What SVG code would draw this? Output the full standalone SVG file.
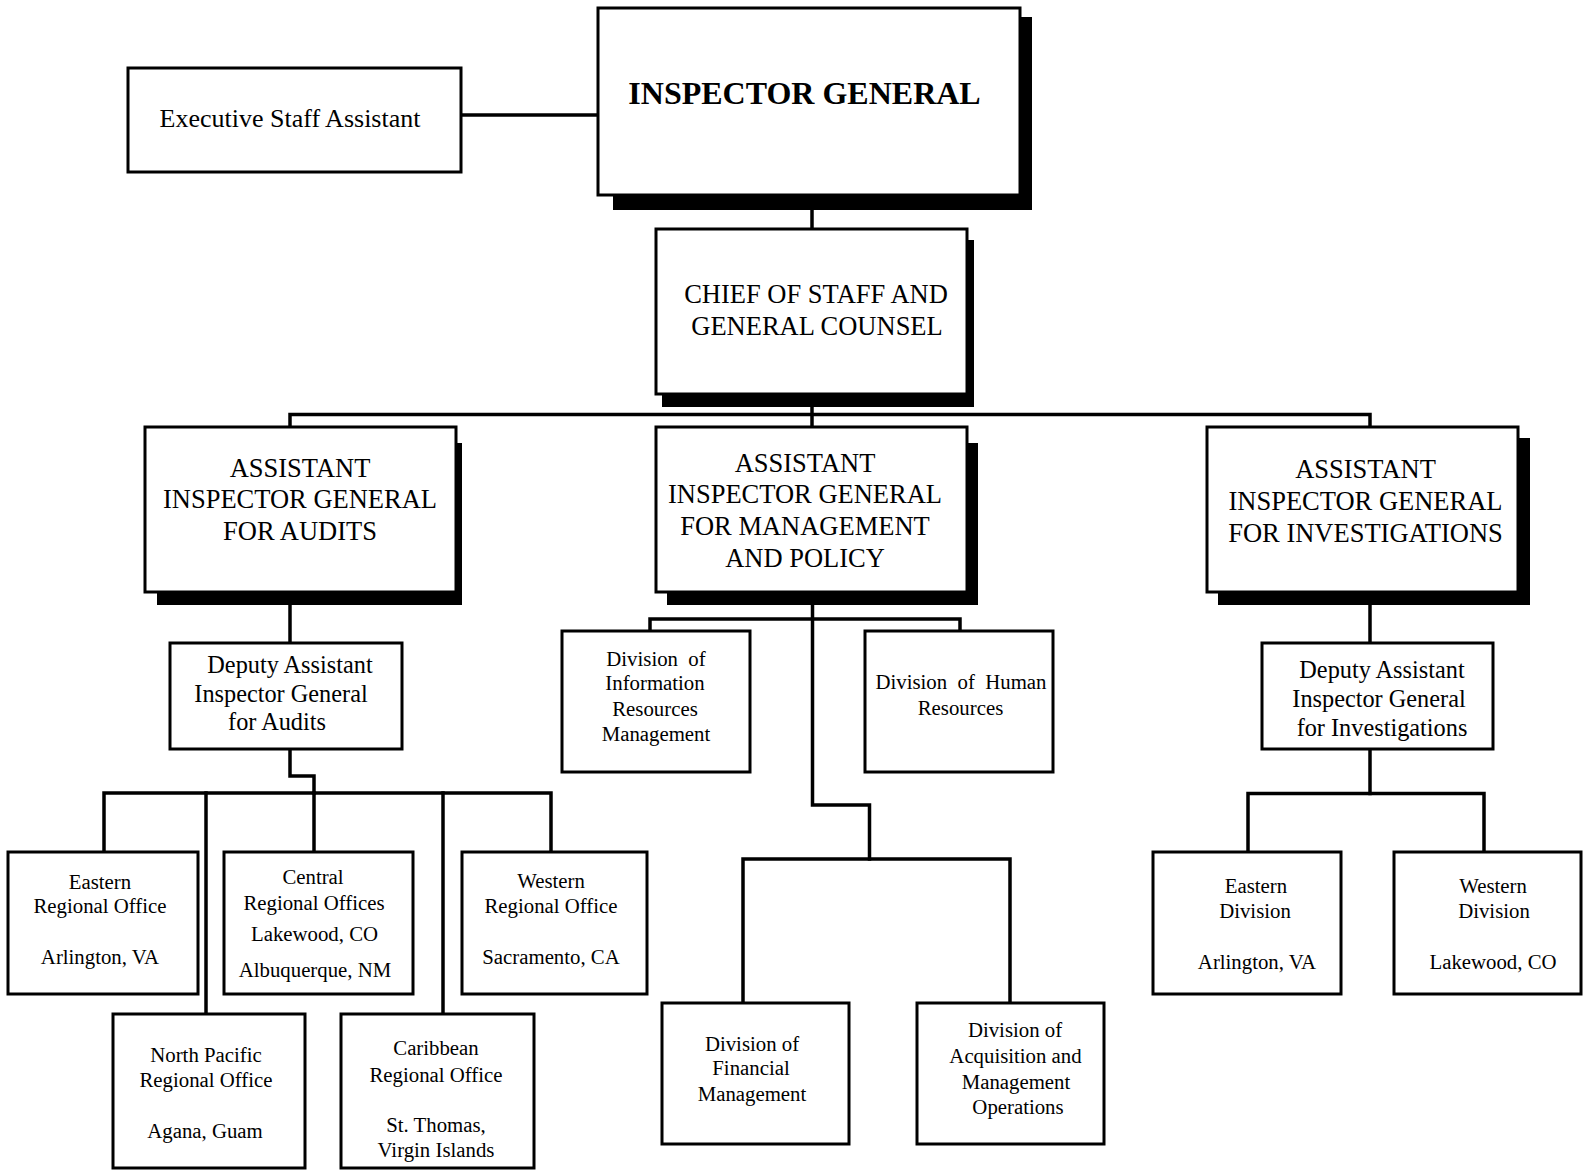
<svg xmlns="http://www.w3.org/2000/svg" width="1585" height="1171" viewBox="0 0 1585 1171">
<style>
  .box { fill: #fff; stroke: #000; stroke-width: 3; }
  .shadow { fill: #000; stroke: none; }
  .conn { fill: none; stroke: #000; stroke-width: 3.5; stroke-linejoin: miter; stroke-linecap: square; }
  text { font-family: "Liberation Serif", "Times New Roman", serif; fill: #000; text-anchor: middle; }
  .ig { font-size: 32px; font-weight: bold; }
  .big { font-size: 26.5px; }
  .exec { font-size: 26px; }
  .dep { font-size: 24.3px; }
  .sm { font-size: 20.8px; }
</style>
<rect width="1585" height="1171" fill="#fff"/>

<g id="connectors">
  <path class="conn" d="M461,115 H598"/>
  <path class="conn" d="M812,210 V229"/>
  <path class="conn" d="M812,407 V427"/>
  <path class="conn" d="M290,427 V414.5 H1370 V427"/>
  <path class="conn" d="M290,592 V643"/>
  <path class="conn" d="M290,749 V776 H314 V793"/>
  <path class="conn" d="M104,852 V793 H551 V852"/>
  <path class="conn" d="M206,793 V1014"/>
  <path class="conn" d="M314,793 V852"/>
  <path class="conn" d="M443,793 V1014"/>
  <path class="conn" d="M812.5,592 V805 H869.5 V859"/>
  <path class="conn" d="M743,1003 V859 H1010 V1003"/>
  <path class="conn" d="M650,631 V619 H960 V631"/>
  <path class="conn" d="M1370,592 V643"/>
  <path class="conn" d="M1370,749 V793.5"/>
  <path class="conn" d="M1248,852 V793.5 H1484 V852"/>
</g>

<g id="exec-staff-assistant">
  <rect class="box" x="128" y="68" width="333" height="104"/>
  <text class="exec" x="290" y="127">Executive Staff Assistant</text>
</g>

<g id="inspector-general">
  <rect class="shadow" x="613" y="17" width="419" height="193"/>
  <rect class="box" x="598" y="8" width="422" height="187"/>
  <text class="ig" x="804.5" y="104">INSPECTOR GENERAL</text>
</g>

<g id="chief-of-staff">
  <rect class="shadow" x="662" y="240" width="312" height="167"/>
  <rect class="box" x="656" y="229" width="311" height="165"/>
  <text class="big" x="816" y="303">CHIEF OF STAFF AND</text>
  <text class="big" x="817" y="335">GENERAL COUNSEL</text>
</g>

<g id="aig-audits">
  <rect class="shadow" x="157" y="443" width="305" height="162"/>
  <rect class="box" x="145" y="427" width="311" height="165"/>
  <text class="big" x="300" y="476.5">ASSISTANT</text>
  <text class="big" x="300" y="508">INSPECTOR GENERAL</text>
  <text class="big" x="300" y="540">FOR AUDITS</text>
</g>

<g id="aig-management">
  <rect class="shadow" x="667" y="443" width="311" height="162"/>
  <rect class="box" x="656" y="427" width="311" height="165"/>
  <text class="big" x="805" y="471.5">ASSISTANT</text>
  <text class="big" x="805" y="503">INSPECTOR GENERAL</text>
  <text class="big" x="805" y="535">FOR MANAGEMENT</text>
  <text class="big" x="805" y="566.5">AND POLICY</text>
</g>

<g id="aig-investigations">
  <rect class="shadow" x="1218" y="438" width="312" height="167"/>
  <rect class="box" x="1207" y="427" width="311" height="165"/>
  <text class="big" x="1365.5" y="477.5">ASSISTANT</text>
  <text class="big" x="1365.5" y="509.5">INSPECTOR GENERAL</text>
  <text class="big" x="1365.5" y="541.5">FOR INVESTIGATIONS</text>
</g>

<g id="deputy-audits">
  <rect class="box" x="170" y="643" width="232" height="106"/>
  <text class="dep" x="290" y="673">Deputy Assistant</text>
  <text class="dep" x="281" y="702">Inspector General</text>
  <text class="dep" x="277" y="730">for Audits</text>
</g>

<g id="deputy-investigations">
  <rect class="box" x="1262" y="643" width="231" height="106"/>
  <text class="dep" x="1382" y="678">Deputy Assistant</text>
  <text class="dep" x="1379" y="707">Inspector General</text>
  <text class="dep" x="1382" y="735.5">for Investigations</text>
</g>

<g id="eastern-regional-office">
  <rect class="box" x="8" y="852" width="190" height="142"/>
  <text class="sm" x="100" y="889">Eastern</text>
  <text class="sm" x="100" y="913">Regional Office</text>
  <text class="sm" x="100" y="964">Arlington, VA</text>
</g>

<g id="central-regional-offices">
  <rect class="box" x="224" y="852" width="189" height="142"/>
  <text class="sm" x="313" y="884">Central</text>
  <text class="sm" x="314" y="909.5">Regional Offices</text>
  <text class="sm" x="314.5" y="940.5">Lakewood, CO</text>
  <text class="sm" x="315" y="977">Albuquerque, NM</text>
</g>

<g id="western-regional-office">
  <rect class="box" x="462" y="852" width="185" height="142"/>
  <text class="sm" x="551" y="888">Western</text>
  <text class="sm" x="551" y="913">Regional Office</text>
  <text class="sm" x="551" y="964">Sacramento, CA</text>
</g>

<g id="north-pacific-regional-office">
  <rect class="box" x="113" y="1014" width="192" height="154"/>
  <text class="sm" x="206" y="1062">North Pacific</text>
  <text class="sm" x="206" y="1087">Regional Office</text>
  <text class="sm" x="205" y="1138">Agana, Guam</text>
</g>

<g id="caribbean-regional-office">
  <rect class="box" x="341" y="1014" width="193" height="154"/>
  <text class="sm" x="436" y="1055">Caribbean</text>
  <text class="sm" x="436" y="1081.5">Regional Office</text>
  <text class="sm" x="436" y="1132">St. Thomas,</text>
  <text class="sm" x="436" y="1157">Virgin Islands</text>
</g>

<g id="div-information-resources">
  <rect class="box" x="562" y="631" width="188" height="141"/>
  <text class="sm" x="656" y="665.5">Division&#160; of</text>
  <text class="sm" x="655" y="690">Information</text>
  <text class="sm" x="655" y="716">Resources</text>
  <text class="sm" x="656" y="741">Management</text>
</g>

<g id="div-human-resources">
  <rect class="box" x="865" y="631" width="188" height="141"/>
  <text class="sm" x="961" y="689">Division&#160; of&#160; Human</text>
  <text class="sm" x="960.5" y="714.5">Resources</text>
</g>

<g id="div-financial-management">
  <rect class="box" x="662" y="1003" width="187" height="141"/>
  <text class="sm" x="752" y="1050.5">Division of</text>
  <text class="sm" x="751" y="1075">Financial</text>
  <text class="sm" x="752" y="1100.7">Management</text>
</g>

<g id="div-acquisition">
  <rect class="box" x="917" y="1003" width="187" height="141"/>
  <text class="sm" x="1015" y="1037">Division of</text>
  <text class="sm" x="1015.5" y="1062.5">Acquisition and</text>
  <text class="sm" x="1016" y="1089">Management</text>
  <text class="sm" x="1018" y="1113.5">Operations</text>
</g>

<g id="eastern-division">
  <rect class="box" x="1153" y="852" width="188" height="142"/>
  <text class="sm" x="1256" y="893">Eastern</text>
  <text class="sm" x="1255" y="918">Division</text>
  <text class="sm" x="1257" y="969">Arlington, VA</text>
</g>

<g id="western-division">
  <rect class="box" x="1394" y="852" width="187" height="142"/>
  <text class="sm" x="1493" y="893">Western</text>
  <text class="sm" x="1494" y="918">Division</text>
  <text class="sm" x="1493" y="969">Lakewood, CO</text>
</g>
</svg>
